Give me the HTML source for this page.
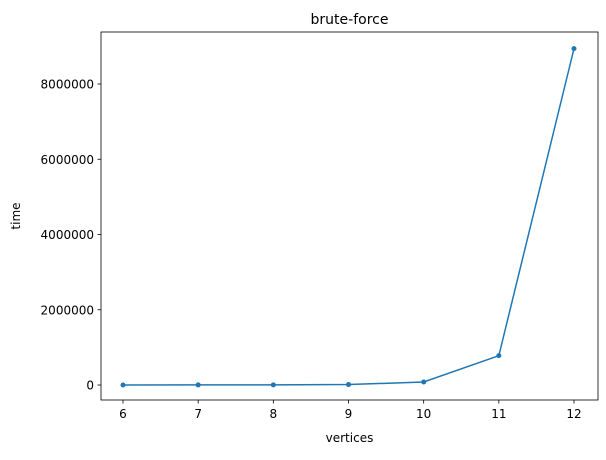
<!DOCTYPE html>
<html><head><meta charset="utf-8"><style>
body{margin:0;background:#fff;font-family:"Liberation Sans","DejaVu Sans",sans-serif;}
svg text{font-family:"DejaVu Sans","Liberation Sans",sans-serif;fill:#000;}
</style></head><body>
<svg id="chart" width="606" height="455" xmlns="http://www.w3.org/2000/svg"></svg>
<script>
const categories=[6,7,8,9,10,11,12];
const timeValues=[1000,2000,4000,12000,80000,780000,8940000];
const yTicks=[0,2000000,4000000,6000000,8000000];
const yTickLabels=["0","2000000","4000000","6000000","8000000"];
const NS="http://www.w3.org/2000/svg";
const svg=document.getElementById('chart');
const L=101,R=598,T=32,B=400;
function xs(v){return 123+(v-6)*(574-123)/6;}
function ys(v){return 385-v*(385-84)/8000000;}
function mk(tag,attrs,parent){const e=document.createElementNS(NS,tag);for(const k in attrs)e.setAttribute(k,attrs[k]);(parent||svg).appendChild(e);return e;}
const frame=mk('rect',{x:L,y:T,width:R-L,height:B-T,fill:'none',stroke:'#000','stroke-width':0.8});


categories.forEach(c=>{
 const g=mk('g',{});
 
 
 mk('line',{x1:xs(c),x2:xs(c),y1:B,y2:B+3.5,stroke:'#000','stroke-width':0.8},g);
 const t=mk('text',{x:xs(c),y:B+18,'text-anchor':'middle','font-size':12},g);t.textContent=c;
});
yTicks.forEach((v,i)=>{
 const g=mk('g',{});
 
 
 mk('line',{x1:L-3.5,x2:L,y1:ys(v),y2:ys(v),stroke:'#000','stroke-width':0.8},g);
 const t=mk('text',{x:L-7,y:ys(v)+4.5,'text-anchor':'end','font-size':12},g);t.textContent=yTickLabels[i];
});
const pts=categories.map((c,i)=>xs(c)+','+ys(timeValues[i])).join(' ');
const line=mk('polyline',{points:pts,fill:'none',stroke:'#1f77b4','stroke-width':1.5});


categories.forEach((c,i)=>{
 const p=mk('circle',{cx:xs(c),cy:ys(timeValues[i]),r:2.5,fill:'#1f77b4'});
 
 
});
const title=mk('text',{x:(L+R)/2,y:24,'text-anchor':'middle','font-size':14});title.textContent='brute-force';


const xl=mk('text',{x:(L+R)/2,y:442,'text-anchor':'middle','font-size':12});xl.textContent='vertices';


const yl=mk('text',{x:20,y:(T+B)/2,'text-anchor':'middle','font-size':12,transform:'rotate(-90 20 '+((T+B)/2)+')'});yl.textContent='time';


</script>
</body></html>
